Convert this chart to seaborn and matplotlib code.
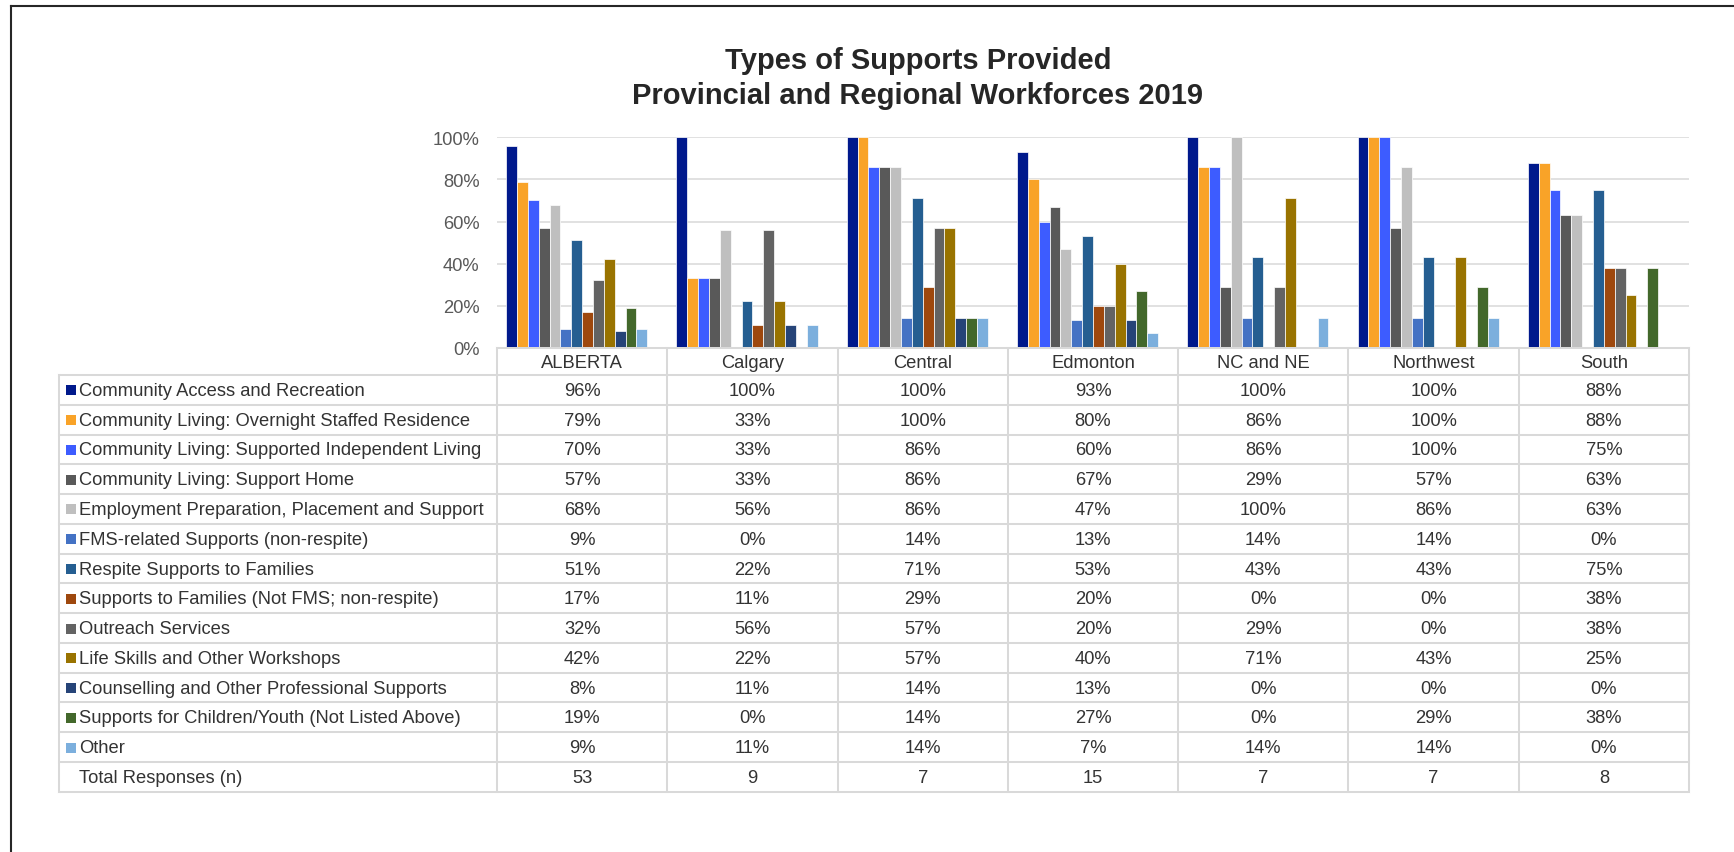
import numpy as np
import pandas as pd
import matplotlib
matplotlib.use("Agg")
import matplotlib.pyplot as plt
from matplotlib.ticker import PercentFormatter
from matplotlib.patches import Rectangle
import seaborn as sns

# ---- data -------------------------------------------------------------
regions = ["ALBERTA", "Calgary", "Central", "Edmonton", "NC and NE", "Northwest", "South"]

supports = [
    "Community Access and Recreation",
    "Community Living: Overnight Staffed Residence",
    "Community Living: Supported Independent Living",
    "Community Living: Support Home",
    "Employment Preparation, Placement and Support",
    "FMS-related Supports (non-respite)",
    "Respite Supports to Families",
    "Supports to Families (Not FMS; non-respite)",
    "Outreach Services",
    "Life Skills and Other Workshops",
    "Counselling and Other Professional Supports",
    "Supports for Children/Youth (Not Listed Above)",
    "Other",
]

access_recreation   = [96, 100, 100, 93, 100, 100, 88]
overnight_staffed   = [79, 33, 100, 80, 86, 100, 88]
supported_indep     = [70, 33, 86, 60, 86, 100, 75]
support_home        = [57, 33, 86, 67, 29, 57, 63]
employment          = [68, 56, 86, 47, 100, 86, 63]
fms_related         = [9, 0, 14, 13, 14, 14, 0]
respite             = [51, 22, 71, 53, 43, 43, 75]
families_other      = [17, 11, 29, 20, 0, 0, 38]
outreach            = [32, 56, 57, 20, 29, 0, 38]
life_skills         = [42, 22, 57, 40, 71, 43, 25]
counselling         = [8, 11, 14, 13, 0, 0, 0]
children_youth      = [19, 0, 14, 27, 0, 29, 38]
other               = [9, 11, 14, 7, 14, 14, 0]

total_label = "Total Responses (n)"
total_responses = [53, 9, 7, 15, 7, 7, 8]

series_values = [access_recreation, overnight_staffed, supported_indep, support_home,
                 employment, fms_related, respite, families_other, outreach,
                 life_skills, counselling, children_youth, other]

colors = ["#00198C", "#F9A328", "#3D5CFF", "#595959", "#BFBFBF", "#4472C4",
          "#255E91", "#9E480E", "#636363", "#997300", "#264478", "#43682B", "#7CAFDD"]

# ---- style ------------------------------------------------------------
sns.set_style("white")
plt.rcParams["font.family"] = ["Liberation Sans", "DejaVu Sans"]

W, H = 1734, 853
fig = plt.figure(figsize=(W / 100, H / 100), dpi=100)
fig.patch.set_facecolor("white")

# geometry (pixels)
plot_left, plot_right = 497, 1689
plot_top, plot_bottom = 138.3, 348.8
table_left = 59
header_top, header_bottom = 349.3, 376.0
row_h = 29.77
n_rows = len(supports) + 1

ax = fig.add_axes([plot_left / W, 1 - plot_bottom / H,
                   (plot_right - plot_left) / W, (plot_bottom - plot_top) / H])

# ---- bars -------------------------------------------------------------
records = []
for name, vals in zip(supports, series_values):
    for reg, v in zip(regions, vals):
        records.append({"region": reg, "support": name, "share": v / 100})
df = pd.DataFrame(records)

palette = dict(zip(supports, colors))
palette[total_label] = "#FFFFFF"  # occupies a slot, carries no bars

sns.barplot(data=df, x="region", y="share", hue="support",
            order=regions, hue_order=supports + [total_label],
            palette=palette, saturation=1, width=0.893,
            edgecolor="white", linewidth=0.5, legend=False, ax=ax,
            errorbar=None)

ax.set_ylim(0, 1)
ax.set_xlim(-0.5, len(regions) - 0.5)
ax.set_yticks(np.arange(0, 1.01, 0.2))
ax.yaxis.set_major_formatter(PercentFormatter(1.0, decimals=0))
ax.set_xticks([])
ax.set_xlabel("")
ax.set_ylabel("")
ax.tick_params(axis="y", length=0, pad=12.5, labelsize=13.2, labelcolor="#595959")
ax.grid(axis="y", color="#D9D9D9", linewidth=1.1)
ax.set_axisbelow(True)
for s in ax.spines.values():
    s.set_visible(False)

# ---- overlay: frame, title, data table --------------------------------
ov = fig.add_axes([0, 0, 1, 1], zorder=5)
ov.set_xlim(0, W)
ov.set_ylim(H, 0)
ov.axis("off")
ov.patch.set_alpha(0)

frame_kw = dict(color="#262626", linewidth=1.5, solid_capstyle="projecting")
ov.plot([11, W + 5], [6.5, 6.5], **frame_kw)
ov.plot([11, 11], [6.5, H + 5], **frame_kw)

ov.text(918, 69, "Types of Supports Provided", ha="center", va="baseline",
        fontsize=21, fontweight="bold", color="#262626")
ov.text(918, 103.5, "Provincial and Regional Workforces 2019", ha="center",
        va="baseline", fontsize=21, fontweight="bold", color="#262626")

grid_kw = dict(color="#D9D9D9", linewidth=1.45, solid_capstyle="projecting")
col_w = (plot_right - plot_left) / len(regions)
col_edges = [plot_left + i * col_w for i in range(len(regions) + 1)]
table_bottom = header_bottom + n_rows * row_h

# header row
ov.plot([plot_left, plot_right], [header_top, header_top], **grid_kw)
for x in col_edges:
    ov.plot([x, x], [header_top, table_bottom], **grid_kw)
ov.plot([table_left, table_left], [header_bottom, table_bottom], **grid_kw)
for k in range(n_rows + 1):
    y = header_bottom + k * row_h
    ov.plot([table_left, plot_right], [y, y], **grid_kw)

txt_kw = dict(fontsize=13.2, color="#333333", va="center")
for i, reg in enumerate(regions):
    ov.text(col_edges[i] + col_w / 2, (header_top + header_bottom) / 2 + 0.5, reg,
            ha="center", **txt_kw)

row_labels = supports + [total_label]
row_cells = [[f"{v}%" for v in vals] for vals in series_values] + \
            [[str(n) for n in total_responses]]
for k, (label, cells) in enumerate(zip(row_labels, row_cells)):
    yc = header_bottom + (k + 0.5) * row_h + 0.5
    if k < len(colors):
        ov.add_patch(Rectangle((66, yc - 5), 10, 10, facecolor=colors[k],
                               edgecolor="none"))
    ov.text(79, yc, label, ha="left", **txt_kw)
    for i, c in enumerate(cells):
        ov.text(col_edges[i] + col_w / 2, yc, c, ha="center", **txt_kw)

fig.savefig("out.png", dpi=100, facecolor="white")
